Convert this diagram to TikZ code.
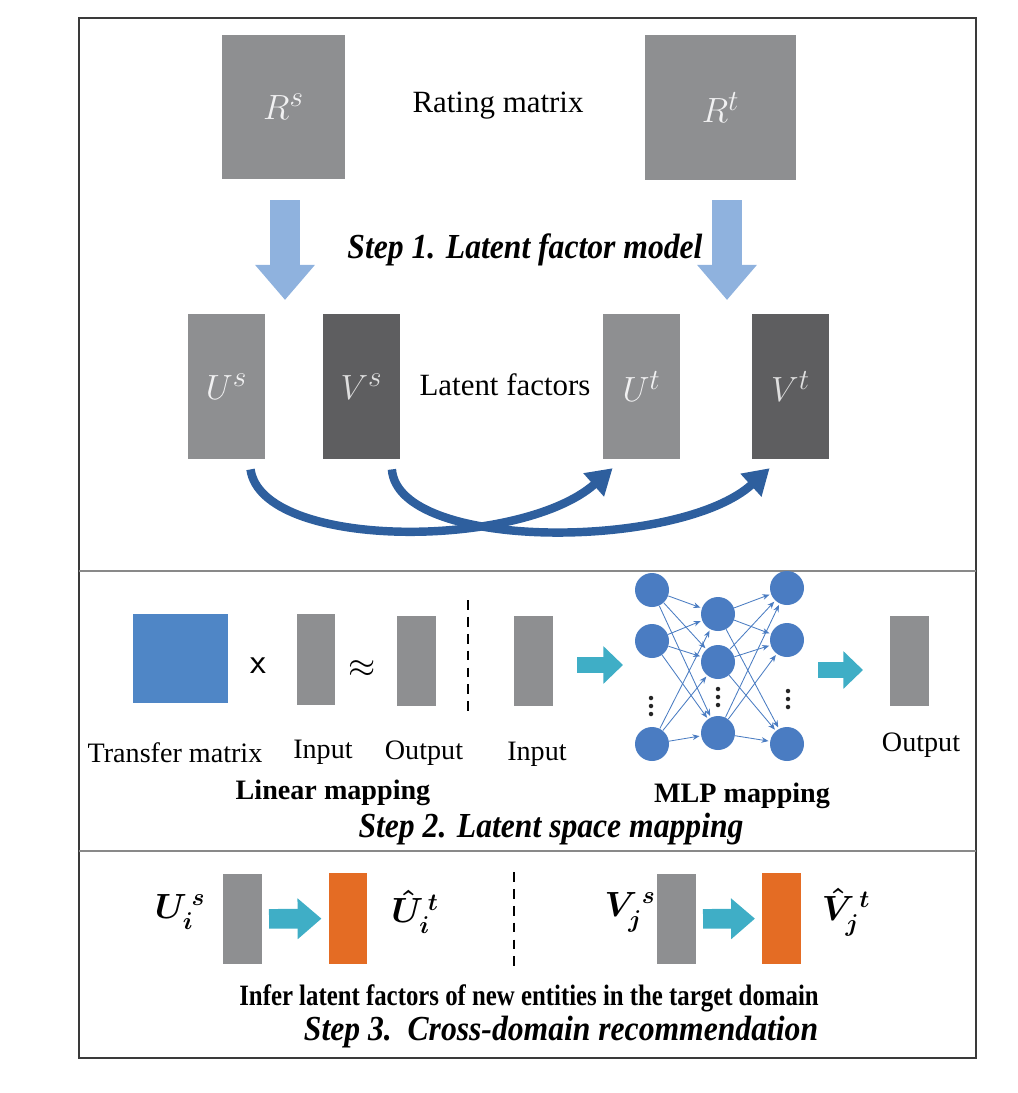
\documentclass[tikz,border=0pt]{standalone}
\usepackage{fontspec}
\setmainfont{Liberation Serif}
\newfontfamily\condserif[FakeStretch=0.84]{Liberation Serif}
\newfontfamily\stepserif[FakeStretch=0.9]{Liberation Serif}
\usepackage{amsmath}
\usetikzlibrary{arrows.meta,positioning}
\definecolor{matgray}{HTML}{8E8F91}
\definecolor{matdark}{HTML}{5E5E60}
\definecolor{tfblue}{HTML}{4F86C6}
\definecolor{nnblue}{HTML}{4A7CC2}
\definecolor{downblue}{HTML}{8FB2DE}
\definecolor{swooshblue}{HTML}{2E5F9E}
\definecolor{arrowteal}{HTML}{3FAEC6}
\definecolor{outorange}{HTML}{E46C24}
\definecolor{framegray}{HTML}{3A3A3A}

\begin{document}
\begin{tikzpicture}[x=0.025cm, y=-0.025cm,
  mat/.style={rectangle, inner sep=0pt, fill=matgray, text=white!88!matgray, font=\fontsize{29}{31}\selectfont},
  matd/.style={mat, fill=matdark, text=white!80!matdark},
  vec/.style={rectangle, inner sep=0pt, fill=matgray, minimum width=0.96cm, minimum height=2.27cm},
  outvec/.style={vec, fill=outorange},
  lbl/.style={inner sep=1pt, font=\fontsize{20}{22}\selectfont},
  biglbl/.style={inner sep=1pt, font=\fontsize{22}{24}\selectfont},
  boldlbl/.style={inner sep=1pt, font=\fontsize{20}{22}\selectfont\bfseries},
  steptitle/.style={inner sep=1pt, font=\fontsize{25}{27}\selectfont\stepserif\bfseries\itshape},
  symlbl/.style={inner sep=0pt, font=\fontsize{26}{28}\selectfont},
  neuron/.style={circle, fill=nnblue, inner sep=0pt, minimum size=0.85cm},
  nndot/.style={circle, fill=black!85, inner sep=0pt, minimum size=3.2pt},
  nnedge/.style={-{Stealth[length=5pt,width=4pt]}, nnblue, line width=0.6pt, shorten >=1pt},
  fatdown/.style={-{Triangle[length=25pt,width=41pt]}, downblue, line width=21pt},
  fatright/.style={-{Triangle[length=14pt,width=26pt]}, arrowteal, line width=12pt},
  bigright/.style={-{Triangle[length=17pt,width=28pt]}, arrowteal, line width=14pt, shorten <=5pt, shorten >=5pt},
  swoosh/.style={-{Triangle[length=18pt,width=21pt]}, swooshblue, line width=6pt},
  sep/.style={framegray!60, line width=1.2pt},
  dashsep/.style={black, dashed, line width=1.2pt, dash pattern=on 7pt off 5pt}
]
  \useasboundingbox (0,0) rectangle (1018,1093);

  % frame and section separators
  \draw[framegray, line width=1.6pt] (79,18) rectangle (976,1058);
  \draw[sep] (79,571) -- (976,571);
  \draw[sep] (79,851) -- (976,851);

  % Step 1: rating matrices
  \node[mat, minimum width=3.08cm, minimum height=3.6cm] (Rs) at (283.5,107) {$R^s$};
  \node[mat, minimum width=3.78cm, minimum height=3.62cm] (Rt) at (720.5,107.5) {$R^t$};
  \node[biglbl] (rating) at (498,106) {Rating matrix};

  \coordinate (rsA) at (285,200);
  \coordinate (rsB) at (285,300);
  \coordinate (rtA) at (727,200);
  \coordinate (rtB) at (727,300);
  \draw[fatdown] (rsA) -- (rsB);
  \draw[fatdown] (rtA) -- (rtB);
  \node[steptitle] (step1) at (525,250) {Step 1. Latent factor model};

  % latent factors
  \node[mat, minimum width=1.93cm, minimum height=3.63cm] (Us) at (226.5,386.5) {$U^s$};
  \node[matd, minimum width=1.93cm, minimum height=3.63cm] (Vs) at (361.5,386.5) {$V^s$};
  \node[mat, minimum width=1.93cm, minimum height=3.63cm] (Ut) at (641.5,386.5) {$U^t$};
  \node[matd, minimum width=1.93cm, minimum height=3.63cm] (Vt) at (790.5,386.5) {$V^t$};
  \node[biglbl] (latent) at (505,385) {Latent factors};

  \draw[swoosh] ([xshift=0.6cm,yshift=-0.25cm]Us.south) .. controls (262,550) and (520,550) .. ([xshift=0.25cm,yshift=-0.22cm]Ut.south west);
  \draw[swoosh] ([xshift=0.76cm,yshift=-0.25cm]Vs.south) .. controls (398,552) and (680,550) .. ([xshift=0.45cm,yshift=-0.22cm]Vt.south west);

  % Step 2: linear mapping
  \node[rectangle, fill=tfblue, inner sep=0pt, minimum width=2.38cm, minimum height=2.23cm] (tm) at (180.5,658.5) {};
  \node[inner sep=0pt, font=\fontsize{26}{28}\selectfont\sffamily] (times) at (258,666) {x};
  \node[vec] (in1) at (316,659.5) {};
  \node[inner sep=0pt, font=\fontsize{28}{30}\selectfont] (approx) at (362,669) {$\approx$};
  \node[vec] (out1) at (416.5,661) {};
  \coordinate (dashA) at (468,600);
  \coordinate (dashB) at (468,713);
  \draw[dashsep] (dashA) -- (dashB);

  \node[lbl] (tmlbl) at (175,753) {Transfer matrix};
  \node[lbl] (in1lbl) at (323,752) {Input};
  \node[lbl] (out1lbl) at (424,753) {Output};
  \node[boldlbl] (linear) at (333,793) {Linear mapping};

  % Step 2: MLP mapping
  \node[vec] (in2) at (533.5,661) {};
  \coordinate (ta) at (577,665);
  \coordinate (tb) at (623,665);
  \draw[fatright] (ta) -- (tb);

  \foreach \n/\yy in {1/590,2/641,3/744}
    \node[neuron] (a\n) at (652,\yy) {};
  \foreach \n/\yy in {1/614,2/662,3/733}
    \node[neuron] (b\n) at (718,\yy) {};
  \foreach \n/\yy in {1/588,2/640,3/744}
    \node[neuron] (c\n) at (787,\yy) {};
  \foreach \i in {1,2,3}
    \foreach \j in {1,2,3} {
      \draw[nnedge] (a\i) -- (b\j);
      \draw[nnedge] (b\i) -- (c\j);
    }
  % vertical dots between the neurons
  \foreach \k in {0,1,2} {
    \node[nndot] (ad\k) at (651,698+8*\k) {};
    \node[nndot] (bd\k) at (718,689+8*\k) {};
    \node[nndot] (cd\k) at (788,691+8*\k) {};
  }

  \coordinate (tc) at (818,670);
  \coordinate (td) at (863,670);
  \draw[fatright] (tc) -- (td);
  \node[vec] (out2) at (909.5,661) {};

  \node[lbl] (in2lbl) at (537,754) {Input};
  \node[lbl] (out2lbl) at (921,745) {Output};
  \node[boldlbl] (mlp) at (742,796) {MLP mapping};
  \node[steptitle] (step2) at (551,829) {Step 2. Latent space mapping};

  % Step 3: cross-domain recommendation
  \node[symlbl] (uislbl) at (180,912) {$\boldsymbol{U_i^{\,s}}$};
  \node[vec] (ui) at (242.5,919) {};
  \node[outvec] (Uit) at (348,918.5) {};
  \node[symlbl] (uitlbl) at (415,912) {$\boldsymbol{\hat{U}_i^{\,t}}$};
  \draw[bigright] (ui) -- (Uit);

  \coordinate (dashC) at (514,872);
  \coordinate (dashD) at (514,968);
  \draw[dashsep] (dashC) -- (dashD);

  \node[symlbl] (vjslbl) at (630,912) {$\boldsymbol{V_j^{\,s}}$};
  \node[vec] (vj) at (676.5,919) {};
  \node[outvec] (Vjt) at (781.5,918.5) {};
  \node[symlbl] (vjtlbl) at (846,912) {$\boldsymbol{\hat{V}_j^{\,t}}$};
  \draw[bigright] (vj) -- (Vjt);

  \node[inner sep=1pt, font=\fontsize{21}{23}\selectfont\condserif\bfseries] (infer) at (529,998) {Infer latent factors of new entities in the target domain};
  \node[steptitle] (step3) at (561,1032) {Step 3.\ \ Cross-domain recommendation};
\end{tikzpicture}
\end{document}
